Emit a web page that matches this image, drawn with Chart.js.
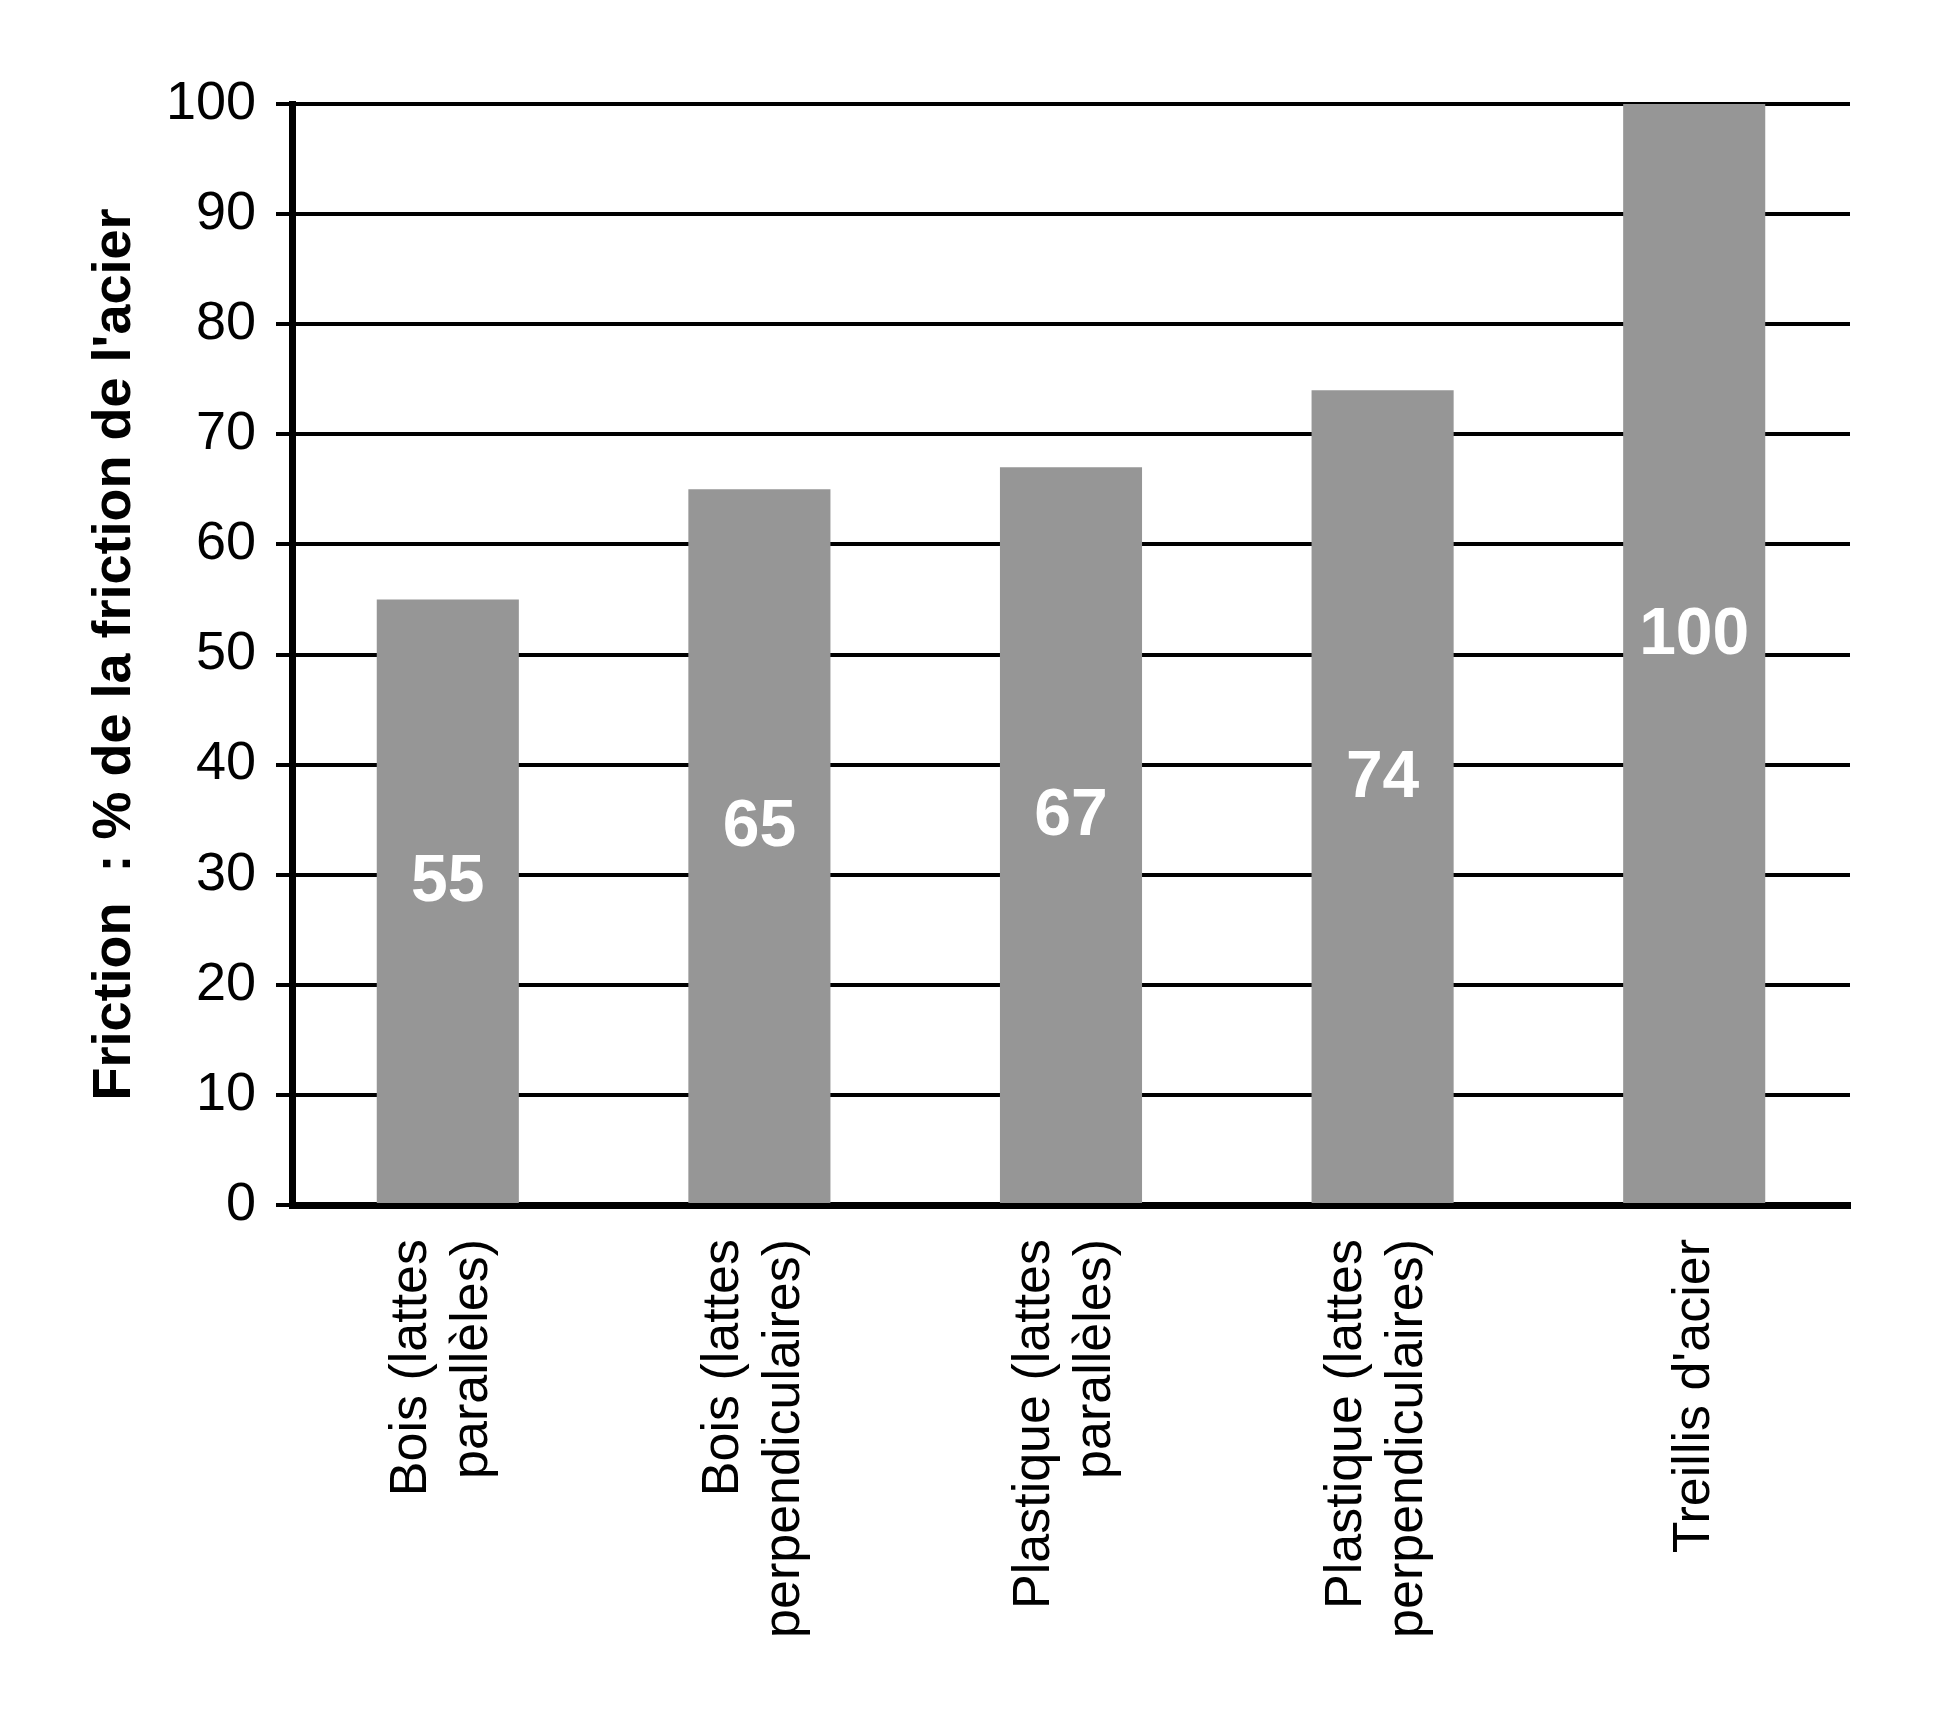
<!DOCTYPE html>
<html>
<head>
<meta charset="utf-8">
<script src="https://cdn.jsdelivr.net/npm/chart.js@4.4.1/dist/chart.umd.min.js"></script>
<style>
  html, body { margin: 0; padding: 0; background: #fff; }
  #wrap { width: 1950px; height: 1711px; }
</style>
</head>
<body>
<div id="wrap"><canvas id="frictionChart"></canvas></div>
<script>
// Data
const categories = [
    ["Bois (lattes", "parallèles)"],
    ["Bois (lattes", "perpendiculaires)"],
    ["Plastique (lattes", "parallèles)"],
    ["Plastique (lattes", "perpendiculaires)"],
    ["", "Treillis d'acier"]
];
const frictionValues = [55, 65, 67, 74, 100];
const yTicks = [0, 10, 20, 30, 40, 50, 60, 70, 80, 90, 100];
const yTitle = "Friction  : % de la friction de l'acier";

const sans = "'Liberation Sans', Arial, sans-serif";

// White value labels inside the bars
const valueLabels = {
    id: "valueLabels",
    afterDatasetsDraw(chart) {
        const ctx = chart.ctx;
        const meta = chart.getDatasetMeta(0);
        ctx.save();
        ctx.fillStyle = "#ffffff";
        ctx.font = "bold 66px " + sans;
        ctx.textAlign = "center";
        ctx.textBaseline = "middle";
        meta.data.forEach((bar, i) => {
            const mid = (bar.y + bar.base) / 2 - 18;
            ctx.fillText(String(frictionValues[i]), bar.x, mid);
        });
        ctx.restore();
    }
};

new Chart(document.getElementById("frictionChart"), {
    type: "bar",
    data: {
        labels: categories,
        datasets: [{
            data: frictionValues,
            backgroundColor: "#969696",
            borderWidth: 0,
            barPercentage: 0.456,
            categoryPercentage: 1.0
        }]
    },
    options: {
        responsive: true,
        maintainAspectRatio: false,
        animation: false,
        devicePixelRatio: 1,
        layout: {
            padding: { left: 0, right: 100, top: 104, bottom: 0 }
        },
        plugins: {
            legend: { display: false },
            tooltip: { enabled: false }
        },
        scales: {
            x: {
                grid: { display: false, drawTicks: false },
                border: { display: true, color: "#000000", width: 7 },
                ticks: {
                    color: "#000000",
                    // single-line label gets half line spacing so it sits on its tick
                    font: (c) => ({
                        family: sans,
                        size: 52,
                        lineHeight: c.index === categories.length - 1 ? 36 / 52 : 61 / 52
                    }),
                    minRotation: 90,
                    maxRotation: 90,
                    padding: 34,
                    labelOffset: -36
                },
                afterFit(scale) { scale.height = 1711 - 1205; }
            },
            y: {
                min: 0,
                max: 100,
                afterBuildTicks(scale) {
                    scale.ticks = yTicks.map(v => ({ value: v }));
                },
                grid: {
                    color: "#000000",
                    lineWidth: 4,
                    drawTicks: true,
                    tickLength: 16
                },
                border: { display: true, color: "#000000", width: 7 },
                ticks: {
                    color: "#000000",
                    font: { family: sans, size: 54 },
                    padding: 20
                },
                title: {
                    display: true,
                    text: yTitle,
                    color: "#000000",
                    font: { family: sans, size: 54, weight: "bold" },
                    padding: { top: 83, bottom: 0 }
                },
                afterFit(scale) { scale.width = 292; }
            }
        }
    },
    plugins: [valueLabels]
});
</script>
</body>
</html>
